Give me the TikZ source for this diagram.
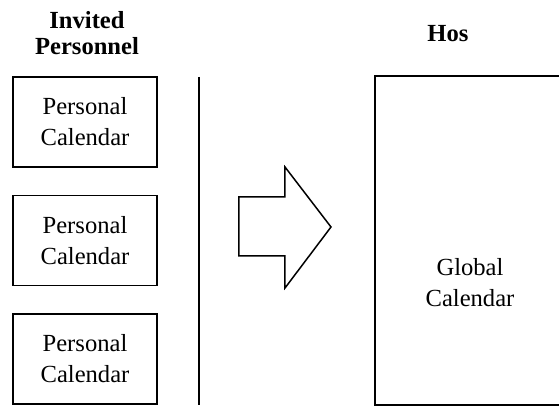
\documentclass[tikz,border=0pt]{standalone}
\usepackage{fontspec}
\setmainfont{Liberation Serif}
\usetikzlibrary{positioning}

\begin{document}
\begin{tikzpicture}[x=0.5pt,y=-0.5pt,node distance=13.5pt,every node/.append style={align=center,font=\fontsize{12.3}{15.5}\selectfont},cal/.style={draw,line width=0.75pt,minimum width=72pt,minimum height=45pt,inner sep=0pt},title/.style={font=\fontsize{12.3}{12.6}\selectfont\bfseries},]
    \useasboundingbox (0,0) rectangle (559,406);
    \clip (0,0) rectangle (559,406);
    \node [cal] (P1) at (85,122) {Personal\\Calendar};
    \node [cal, below=of P1] (P2) {Personal\\Calendar};
    \node [cal, below=of P2] (P3) {Personal\\Calendar};
    \node [title] (inv) at (87,33) {Invited\\Personnel};
    \coordinate (divtop) at (199,77);
    \coordinate (divbot) at (199,405);
    \draw [line width=1pt] (divtop) -- (divbot);
    \draw [line width=0.75pt, line join=miter] (239,197) -- (285,197) -- (285,167) -- (331,227) -- (285,288) -- (285,256) -- (239,256) -- cycle;
    \node [draw, line width=0.75pt, minimum width=95pt, minimum height=164.5pt, inner sep=0pt] (glob) at (470,240.5) {};
    \node (globtxt) at ([yshift=-21pt]glob.center) {Global\\Calendar};
    \node [title] (hos) at (448,34) {Hos};
\end{tikzpicture}
\end{document}
